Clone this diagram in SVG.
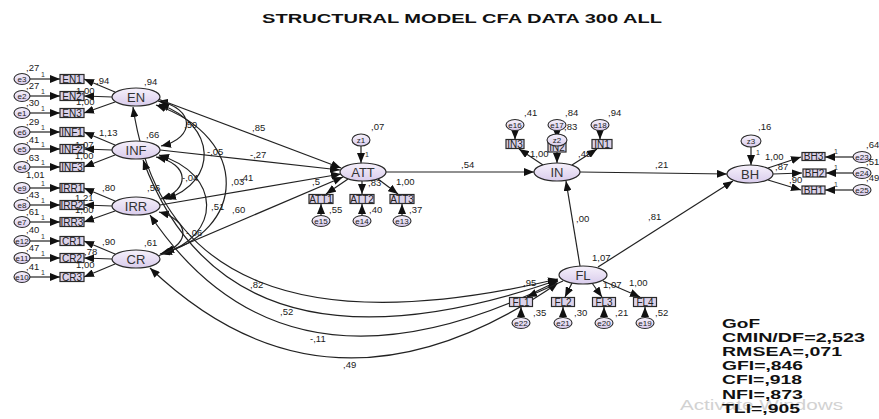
<svg xmlns="http://www.w3.org/2000/svg" width="879" height="419" viewBox="0 0 879 419">
<defs>
  <linearGradient id="lg" x1="0" y1="0" x2="0" y2="1">
    <stop offset="0" stop-color="#f6f1fb"/>
    <stop offset="1" stop-color="#d9ccec"/>
  </linearGradient>
  <marker id="ah" viewBox="0 0 10 8" refX="10" refY="4" markerWidth="10" markerHeight="8" markerUnits="userSpaceOnUse" orient="auto-start-reverse">
    <path d="M0,0L10,4L0,8z" fill="#111"/>
  </marker>
  <style>
    .lat{fill:url(#lg);stroke:#2a2a2a;stroke-width:1.2}
    .box{fill:#dcd3ea;stroke:#2a2a2a;stroke-width:1.2}
    .err{fill:url(#lg);stroke:#2a2a2a;stroke-width:1.1}
    .nm{font-family:"Liberation Sans",Arial,sans-serif;font-size:13px;fill:#333;text-anchor:middle}
    .bt{font-family:"Liberation Sans",Arial,sans-serif;font-size:10px;fill:#222;text-anchor:middle}
    .et{font-family:"Liberation Sans",Arial,sans-serif;font-size:8px;fill:#222;text-anchor:middle}
    .lb{font-family:"Liberation Sans",Arial,sans-serif;font-size:9.5px;fill:#1a1a1a}
    .one{font-family:"Liberation Sans",Arial,sans-serif;font-size:7px;fill:#333}
    .c{stroke:#222;stroke-width:1.2;fill:none;marker-end:url(#ah)}
    .cv{stroke:#222;stroke-width:1.2;fill:none;marker-start:url(#ah);marker-end:url(#ah)}
    .ttl{font-family:"Liberation Sans",Arial,sans-serif;font-weight:bold;font-size:13.5px;fill:#111}
    .gof{font-family:"Liberation Sans",Arial,sans-serif;font-weight:bold;font-size:13px;fill:#111}
    .wm{font-family:"Liberation Sans",Arial,sans-serif;font-size:15px;fill:#d2d2d2}
  </style>
</defs>
<rect width="879" height="419" fill="#fff"/>

<text class="ttl" x="262" y="23" textLength="400" lengthAdjust="spacingAndGlyphs">STRUCTURAL MODEL CFA DATA 300 ALL</text>

<!-- connectors -->
<g id="connectors">
  <!-- error terms to left indicators -->
  <line class="c" x1="30" y1="79" x2="60" y2="79"/>
  <line class="c" x1="30" y1="96" x2="60" y2="96"/>
  <line class="c" x1="30" y1="113" x2="60" y2="113"/>
  <line class="c" x1="30" y1="132" x2="60" y2="132"/>
  <line class="c" x1="30" y1="149" x2="60" y2="149"/>
  <line class="c" x1="30" y1="167" x2="60" y2="167"/>
  <line class="c" x1="30" y1="188" x2="60" y2="188"/>
  <line class="c" x1="30" y1="205" x2="60" y2="205"/>
  <line class="c" x1="30" y1="222" x2="60" y2="222"/>
  <line class="c" x1="30" y1="241" x2="60" y2="241"/>
  <line class="c" x1="30" y1="258" x2="60" y2="258"/>
  <line class="c" x1="30" y1="277" x2="60" y2="277"/>
  <!-- loadings, left latents -->
  <line class="c" x1="115" y1="92" x2="84" y2="79"/>
  <line class="c" x1="112" y1="97" x2="84" y2="96"/>
  <line class="c" x1="115" y1="102" x2="84" y2="113"/>
  <line class="c" x1="115" y1="145" x2="84" y2="132"/>
  <line class="c" x1="112" y1="150" x2="84" y2="149"/>
  <line class="c" x1="115" y1="155" x2="84" y2="167"/>
  <line class="c" x1="115" y1="201" x2="84" y2="188"/>
  <line class="c" x1="112" y1="206" x2="84" y2="205"/>
  <line class="c" x1="115" y1="211" x2="84" y2="222"/>
  <line class="c" x1="115" y1="254" x2="84" y2="241"/>
  <line class="c" x1="112" y1="259" x2="84" y2="258"/>
  <line class="c" x1="115" y1="264" x2="84" y2="277"/>
  <!-- covariances among left latents -->
  <path class="cv" d="M158,101 C195,108 196,138 161,146"/>
  <path class="cv" d="M159,104 C218,125 218,182 166,199"/>
  <path class="cv" d="M156,105 C252,138 246,232 160,254"/>
  <path class="cv" d="M156,157 C190,164 190,190 161,199"/>
  <path class="cv" d="M159,155 C222,174 222,236 162,254"/>
  <path class="cv" d="M159,212 C190,220 190,244 164,252"/>
  <!-- covariances with FL -->
  <path class="cv" d="M133,107 Q172,370 558,279"/>
  <path class="cv" d="M143,160 Q229,393 558,280"/>
  <path class="cv" d="M150,215 Q286,418 558,281"/>
  <path class="cv" d="M150,268 Q330,440 558,283"/>
  <!-- structural paths -->
  <line class="c" x1="158" y1="99" x2="341" y2="168"/>
  <line class="c" x1="160" y1="150" x2="340" y2="170"/>
  <line class="c" x1="160" y1="205" x2="341" y2="174"/>
  <line class="c" x1="158" y1="256" x2="343" y2="177"/>
  <line class="c" x1="386" y1="172" x2="534" y2="172"/>
  <line class="c" x1="580" y1="172" x2="727" y2="174"/>
  <line class="c" x1="580" y1="266" x2="566" y2="181"/>
  <line class="c" x1="598" y1="267" x2="733" y2="181"/>
  <!-- ATT block -->
  <line class="c" x1="361" y1="146" x2="361" y2="163"/>
  <line class="c" x1="348" y1="179" x2="326" y2="194"/>
  <line class="c" x1="362" y1="181" x2="362" y2="194"/>
  <line class="c" x1="378" y1="179" x2="398" y2="194"/>
  <line class="c" x1="321" y1="215.5" x2="321" y2="204"/>
  <line class="c" x1="362" y1="215.5" x2="362" y2="204"/>
  <line class="c" x1="402" y1="215.5" x2="402" y2="204"/>
  <!-- IN block -->
  <line class="c" x1="515" y1="130.5" x2="515" y2="139.5"/>
  <line class="c" x1="557" y1="130.5" x2="557" y2="139"/>
  <line class="c" x1="600" y1="130.5" x2="600" y2="139.5"/>
  <line class="c" x1="557" y1="146" x2="557" y2="163"/>
  <line class="c" x1="543" y1="165" x2="519" y2="149"/>
  <line class="c" x1="572" y1="165" x2="597" y2="149"/>
  <!-- BH block -->
  <line class="c" x1="751" y1="147" x2="751" y2="165"/>
  <line class="c" x1="768" y1="168" x2="801" y2="157"/>
  <line class="c" x1="773" y1="174" x2="802" y2="173"/>
  <line class="c" x1="768" y1="180" x2="801" y2="190"/>
  <line class="c" x1="853" y1="157" x2="825" y2="157"/>
  <line class="c" x1="853" y1="173" x2="826" y2="173"/>
  <line class="c" x1="853" y1="190" x2="825" y2="190"/>
  <!-- FL block -->
  <line class="c" x1="563" y1="281" x2="527" y2="297"/>
  <line class="c" x1="572" y1="283" x2="565" y2="297"/>
  <line class="c" x1="592" y1="283" x2="602" y2="297"/>
  <line class="c" x1="603" y1="281" x2="640" y2="297"/>
  <line class="c" x1="521" y1="317.5" x2="521" y2="307"/>
  <line class="c" x1="563" y1="317.5" x2="563" y2="307"/>
  <line class="c" x1="604" y1="317.5" x2="604" y2="307"/>
  <line class="c" x1="645" y1="317.5" x2="645" y2="307"/>
</g>

<!-- left error terms -->
<g id="e3"><ellipse class="err" cx="22" cy="79" rx="8" ry="5.5"/><text class="et" x="22" y="82">e3</text></g>
<g id="e2"><ellipse class="err" cx="22" cy="96" rx="8" ry="5.5"/><text class="et" x="22" y="99">e2</text></g>
<g id="e1"><ellipse class="err" cx="22" cy="113" rx="8" ry="5.5"/><text class="et" x="22" y="116">e1</text></g>
<g id="e6"><ellipse class="err" cx="22" cy="132" rx="8" ry="5.5"/><text class="et" x="22" y="135">e6</text></g>
<g id="e5"><ellipse class="err" cx="22" cy="149" rx="8" ry="5.5"/><text class="et" x="22" y="152">e5</text></g>
<g id="e4"><ellipse class="err" cx="22" cy="167" rx="8" ry="5.5"/><text class="et" x="22" y="170">e4</text></g>
<g id="e9"><ellipse class="err" cx="22" cy="188" rx="8" ry="5.5"/><text class="et" x="22" y="191">e9</text></g>
<g id="e8"><ellipse class="err" cx="22" cy="205" rx="8" ry="5.5"/><text class="et" x="22" y="208">e8</text></g>
<g id="e7"><ellipse class="err" cx="22" cy="222" rx="8" ry="5.5"/><text class="et" x="22" y="225">e7</text></g>
<g id="e12"><ellipse class="err" cx="22" cy="241" rx="8" ry="5.5"/><text class="et" x="22" y="244">e12</text></g>
<g id="e11"><ellipse class="err" cx="22" cy="258" rx="8" ry="5.5"/><text class="et" x="22" y="261">e11</text></g>
<g id="e10"><ellipse class="err" cx="22" cy="277" rx="8" ry="5.5"/><text class="et" x="22" y="280">e10</text></g>

<!-- left indicators -->
<g id="EN1"><rect class="box" x="60" y="74.5" width="24" height="9"/><text class="bt" x="72" y="82.5">EN1</text></g>
<g id="EN2"><rect class="box" x="60" y="91.5" width="24" height="9"/><text class="bt" x="72" y="99.5">EN2</text></g>
<g id="EN3"><rect class="box" x="60" y="108.5" width="24" height="9"/><text class="bt" x="72" y="116.5">EN3</text></g>
<g id="INF1"><rect class="box" x="60" y="127.5" width="24" height="9"/><text class="bt" x="72" y="135.5">INF1</text></g>
<g id="INF2"><rect class="box" x="60" y="144.5" width="24" height="9"/><text class="bt" x="72" y="152.5">INF2</text></g>
<g id="INF3"><rect class="box" x="60" y="162.5" width="24" height="9"/><text class="bt" x="72" y="170.5">INF3</text></g>
<g id="IRR1"><rect class="box" x="60" y="183.5" width="24" height="9"/><text class="bt" x="72" y="191.5">IRR1</text></g>
<g id="IRR2"><rect class="box" x="60" y="200.5" width="24" height="9"/><text class="bt" x="72" y="208.5">IRR2</text></g>
<g id="IRR3"><rect class="box" x="60" y="217.5" width="24" height="9"/><text class="bt" x="72" y="225.5">IRR3</text></g>
<g id="CR1"><rect class="box" x="60" y="236.5" width="24" height="9"/><text class="bt" x="72" y="244.5">CR1</text></g>
<g id="CR2"><rect class="box" x="60" y="253.5" width="24" height="9"/><text class="bt" x="72" y="261.5">CR2</text></g>
<g id="CR3"><rect class="box" x="60" y="272.5" width="24" height="9"/><text class="bt" x="72" y="280.5">CR3</text></g>

<!-- exogenous latents -->
<g id="EN"><ellipse class="lat" cx="136" cy="97" rx="24" ry="9"/><text class="nm" x="136" y="101.5">EN</text></g>
<g id="INF"><ellipse class="lat" cx="136" cy="150" rx="24" ry="9"/><text class="nm" x="136" y="154.5">INF</text></g>
<g id="IRR"><ellipse class="lat" cx="136" cy="206" rx="24" ry="9"/><text class="nm" x="136" y="210.5">IRR</text></g>
<g id="CR"><ellipse class="lat" cx="136" cy="259" rx="24" ry="9"/><text class="nm" x="136" y="263.5">CR</text></g>

<!-- ATT -->
<g id="z1"><ellipse class="err" cx="361" cy="140" rx="9" ry="6"/><text class="et" x="361" y="143">z1</text></g>
<g id="ATT"><ellipse class="lat" cx="363" cy="172" rx="23" ry="9"/><text class="nm" x="363" y="176.5">ATT</text></g>
<g id="ATT1"><rect class="box" x="309" y="194.5" width="24" height="9"/><text class="bt" x="321" y="202.5">ATT1</text></g>
<g id="ATT2"><rect class="box" x="350" y="194.5" width="24" height="9"/><text class="bt" x="362" y="202.5">ATT2</text></g>
<g id="ATT3"><rect class="box" x="390" y="194.5" width="24" height="9"/><text class="bt" x="402" y="202.5">ATT3</text></g>
<g id="e15"><ellipse class="err" cx="321" cy="221" rx="9" ry="5.5"/><text class="et" x="321" y="224">e15</text></g>
<g id="e14"><ellipse class="err" cx="362" cy="221" rx="9" ry="5.5"/><text class="et" x="362" y="224">e14</text></g>
<g id="e13"><ellipse class="err" cx="402" cy="221" rx="9" ry="5.5"/><text class="et" x="402" y="224">e13</text></g>

<!-- IN -->
<g id="e16"><ellipse class="err" cx="515" cy="125" rx="9" ry="5.5"/><text class="et" x="515" y="128">e16</text></g>
<g id="e17"><ellipse class="err" cx="557" cy="125" rx="9" ry="5.5"/><text class="et" x="557" y="128">e17</text></g>
<g id="e18"><ellipse class="err" cx="600" cy="125" rx="9" ry="5.5"/><text class="et" x="600" y="128">e18</text></g>
<g id="IN3"><rect class="box" x="506" y="139.5" width="18" height="9"/><text class="bt" x="515" y="147.5">IN3</text></g>
<g id="IN2"><rect class="box" x="548" y="143" width="18" height="9"/><text class="bt" x="557" y="151">IN2</text></g>
<g id="IN1"><rect class="box" x="592" y="139.5" width="20" height="9"/><text class="bt" x="602" y="147.5">IN1</text></g>
<g id="z2"><ellipse class="err" cx="557" cy="140" rx="10" ry="6"/><text class="et" x="557" y="143">z2</text></g>
<g id="IN"><ellipse class="lat" cx="557" cy="172" rx="23" ry="9"/><text class="nm" x="557" y="176.5">IN</text></g>

<!-- BH -->
<g id="z3"><ellipse class="err" cx="751" cy="141" rx="10" ry="6"/><text class="et" x="751" y="144">z3</text></g>
<g id="BH"><ellipse class="lat" cx="750" cy="174" rx="23" ry="9"/><text class="nm" x="750" y="178.5">BH</text></g>
<g id="BH3"><rect class="box" x="802" y="152.5" width="23" height="8"/><text class="bt" x="813.5" y="160">BH3</text></g>
<g id="BH2"><rect class="box" x="803" y="169" width="23" height="8"/><text class="bt" x="814.5" y="176.5">BH2</text></g>
<g id="BH1"><rect class="box" x="802" y="186" width="23" height="8"/><text class="bt" x="813.5" y="193.5">BH1</text></g>
<g id="e23"><ellipse class="err" cx="862" cy="157" rx="9" ry="5.5"/><text class="et" x="862" y="160">e23</text></g>
<g id="e24"><ellipse class="err" cx="862" cy="173" rx="9" ry="5.5"/><text class="et" x="862" y="176">e24</text></g>
<g id="e25"><ellipse class="err" cx="862" cy="190" rx="9" ry="5.5"/><text class="et" x="862" y="193">e25</text></g>

<!-- FL -->
<g id="FL"><ellipse class="lat" cx="583" cy="275" rx="24" ry="9"/><text class="nm" x="583" y="279.5">FL</text></g>
<g id="FL1"><rect class="box" x="509.5" y="297.5" width="23" height="9"/><text class="bt" x="521" y="305.5">FL1</text></g>
<g id="FL2"><rect class="box" x="551.5" y="297.5" width="23" height="9"/><text class="bt" x="563" y="305.5">FL2</text></g>
<g id="FL3"><rect class="box" x="592.5" y="297.5" width="23" height="9"/><text class="bt" x="604" y="305.5">FL3</text></g>
<g id="FL4"><rect class="box" x="633.5" y="297.5" width="23" height="9"/><text class="bt" x="645" y="305.5">FL4</text></g>
<g id="e22"><ellipse class="err" cx="521" cy="323" rx="9" ry="5.5"/><text class="et" x="521" y="326">e22</text></g>
<g id="e21"><ellipse class="err" cx="563" cy="323" rx="9" ry="5.5"/><text class="et" x="563" y="326">e21</text></g>
<g id="e20"><ellipse class="err" cx="604" cy="323" rx="9" ry="5.5"/><text class="et" x="604" y="326">e20</text></g>
<g id="e19"><ellipse class="err" cx="645" cy="323" rx="9" ry="5.5"/><text class="et" x="645" y="326">e19</text></g>

<!-- estimates -->
<g id="estimates">
  <!-- error variances, left -->
  <text class="lb" x="26" y="71">,27</text>
  <text class="lb" x="26" y="89">,27</text>
  <text class="lb" x="26" y="106">,30</text>
  <text class="lb" x="26" y="125">,29</text>
  <text class="lb" x="26" y="143">,41</text>
  <text class="lb" x="26" y="161">,63</text>
  <text class="lb" x="26" y="178">1,01</text>
  <text class="lb" x="26" y="198">,43</text>
  <text class="lb" x="26" y="215">,61</text>
  <text class="lb" x="26" y="233">,40</text>
  <text class="lb" x="26" y="251">,47</text>
  <text class="lb" x="26" y="270">,41</text>
  <text class="one" x="41" y="77">1</text><text class="one" x="41" y="94">1</text><text class="one" x="41" y="111">1</text>
  <text class="one" x="41" y="130">1</text><text class="one" x="41" y="147">1</text><text class="one" x="41" y="165">1</text>
  <text class="one" x="41" y="186">1</text><text class="one" x="41" y="203">1</text><text class="one" x="41" y="220">1</text>
  <text class="one" x="41" y="239">1</text><text class="one" x="41" y="256">1</text><text class="one" x="41" y="275">1</text>
  <!-- loadings, left -->
  <text class="lb" x="96" y="84">,94</text>
  <text class="lb" x="76" y="94">1,00</text>
  <text class="lb" x="76" y="105">1,00</text>
  <text class="lb" x="99" y="136">1,13</text>
  <text class="lb" x="75" y="148">1,07</text>
  <text class="lb" x="75" y="159">1,00</text>
  <text class="lb" x="102" y="191">,80</text>
  <text class="lb" x="75" y="201">1,21</text>
  <text class="lb" x="75" y="213">1,00</text>
  <text class="lb" x="102" y="245">,90</text>
  <text class="lb" x="84" y="255">,78</text>
  <text class="lb" x="76" y="268">1,00</text>
  <!-- latent variances -->
  <text class="lb" x="144" y="85">,94</text>
  <text class="lb" x="146" y="138">,66</text>
  <text class="lb" x="147" y="191">,56</text>
  <text class="lb" x="144" y="246">,61</text>
  <!-- covariances -->
  <text class="lb" x="184" y="128">,59</text>
  <text class="lb" x="207" y="155">-,05</text>
  <text class="lb" x="231" y="185">,03</text>
  <text class="lb" x="182" y="181">-,04</text>
  <text class="lb" x="211" y="210">,51</text>
  <text class="lb" x="186" y="236">-,06</text>
  <text class="lb" x="250" y="288">,82</text>
  <text class="lb" x="280" y="315">,52</text>
  <text class="lb" x="310" y="342">-,11</text>
  <text class="lb" x="343" y="368">,49</text>
  <!-- structural weights -->
  <text class="lb" x="252" y="131">,85</text>
  <text class="lb" x="250" y="158">-,27</text>
  <text class="lb" x="240" y="181">,41</text>
  <text class="lb" x="232" y="213">,60</text>
  <text class="lb" x="461" y="168">,54</text>
  <text class="lb" x="655" y="168">,21</text>
  <text class="lb" x="576" y="222">,00</text>
  <text class="lb" x="648" y="220">,81</text>
  <!-- ATT block -->
  <text class="lb" x="371" y="130">,07</text>
  <text class="one" x="365" y="157">1</text>
  <text class="lb" x="312" y="185">,5</text>
  <text class="lb" x="368" y="186">,83</text>
  <text class="lb" x="396" y="185">1,00</text>
  <text class="lb" x="329" y="213">,55</text>
  <text class="lb" x="369" y="213">,40</text>
  <text class="lb" x="409" y="213">,37</text>
  <!-- IN block -->
  <text class="lb" x="524" y="116">,41</text>
  <text class="lb" x="565" y="116">,84</text>
  <text class="lb" x="608" y="116">,94</text>
  <text class="lb" x="564" y="130">,83</text>
  <text class="lb" x="530" y="157">1,00</text>
  <text class="lb" x="578" y="157">,49</text>
  <!-- BH block -->
  <text class="lb" x="758" y="130">,16</text>
  <text class="one" x="756" y="155">1</text>
  <text class="lb" x="765" y="160">1,00</text>
  <text class="lb" x="775" y="170">,87</text>
  <text class="lb" x="789" y="183">,90</text>
  <text class="one" x="834" y="154">1</text><text class="one" x="834" y="170">1</text><text class="one" x="834" y="187">1</text>
  <text class="lb" x="866" y="148">,64</text>
  <text class="lb" x="866" y="165">,51</text>
  <text class="lb" x="866" y="181">,49</text>
  <!-- FL block -->
  <text class="lb" x="592" y="261">1,07</text>
  <text class="lb" x="523" y="286">,95</text>
  <text class="lb" x="603" y="288">1,07</text>
  <text class="lb" x="629" y="286">1,00</text>
  <text class="lb" x="533" y="316">,35</text>
  <text class="lb" x="574" y="316">,30</text>
  <text class="lb" x="615" y="316">,21</text>
  <text class="lb" x="655" y="316">,52</text>
</g>

<text class="wm" x="680" y="410" textLength="163" lengthAdjust="spacingAndGlyphs">Activate Windows</text>

<g id="gof">
  <text class="gof" x="722" y="328" textLength="38" lengthAdjust="spacingAndGlyphs">GoF</text>
  <text class="gof" x="722" y="342" textLength="143" lengthAdjust="spacingAndGlyphs">CMIN/DF=2,523</text>
  <text class="gof" x="722" y="356" textLength="120" lengthAdjust="spacingAndGlyphs">RMSEA=,071</text>
  <text class="gof" x="722" y="370" textLength="81" lengthAdjust="spacingAndGlyphs">GFI=,846</text>
  <text class="gof" x="722" y="384" textLength="80" lengthAdjust="spacingAndGlyphs">CFI=,918</text>
  <text class="gof" x="722" y="399" textLength="81" lengthAdjust="spacingAndGlyphs">NFI=,873</text>
  <text class="gof" x="722" y="413" textLength="78" lengthAdjust="spacingAndGlyphs">TLI=,905</text>
</g>
</svg>
